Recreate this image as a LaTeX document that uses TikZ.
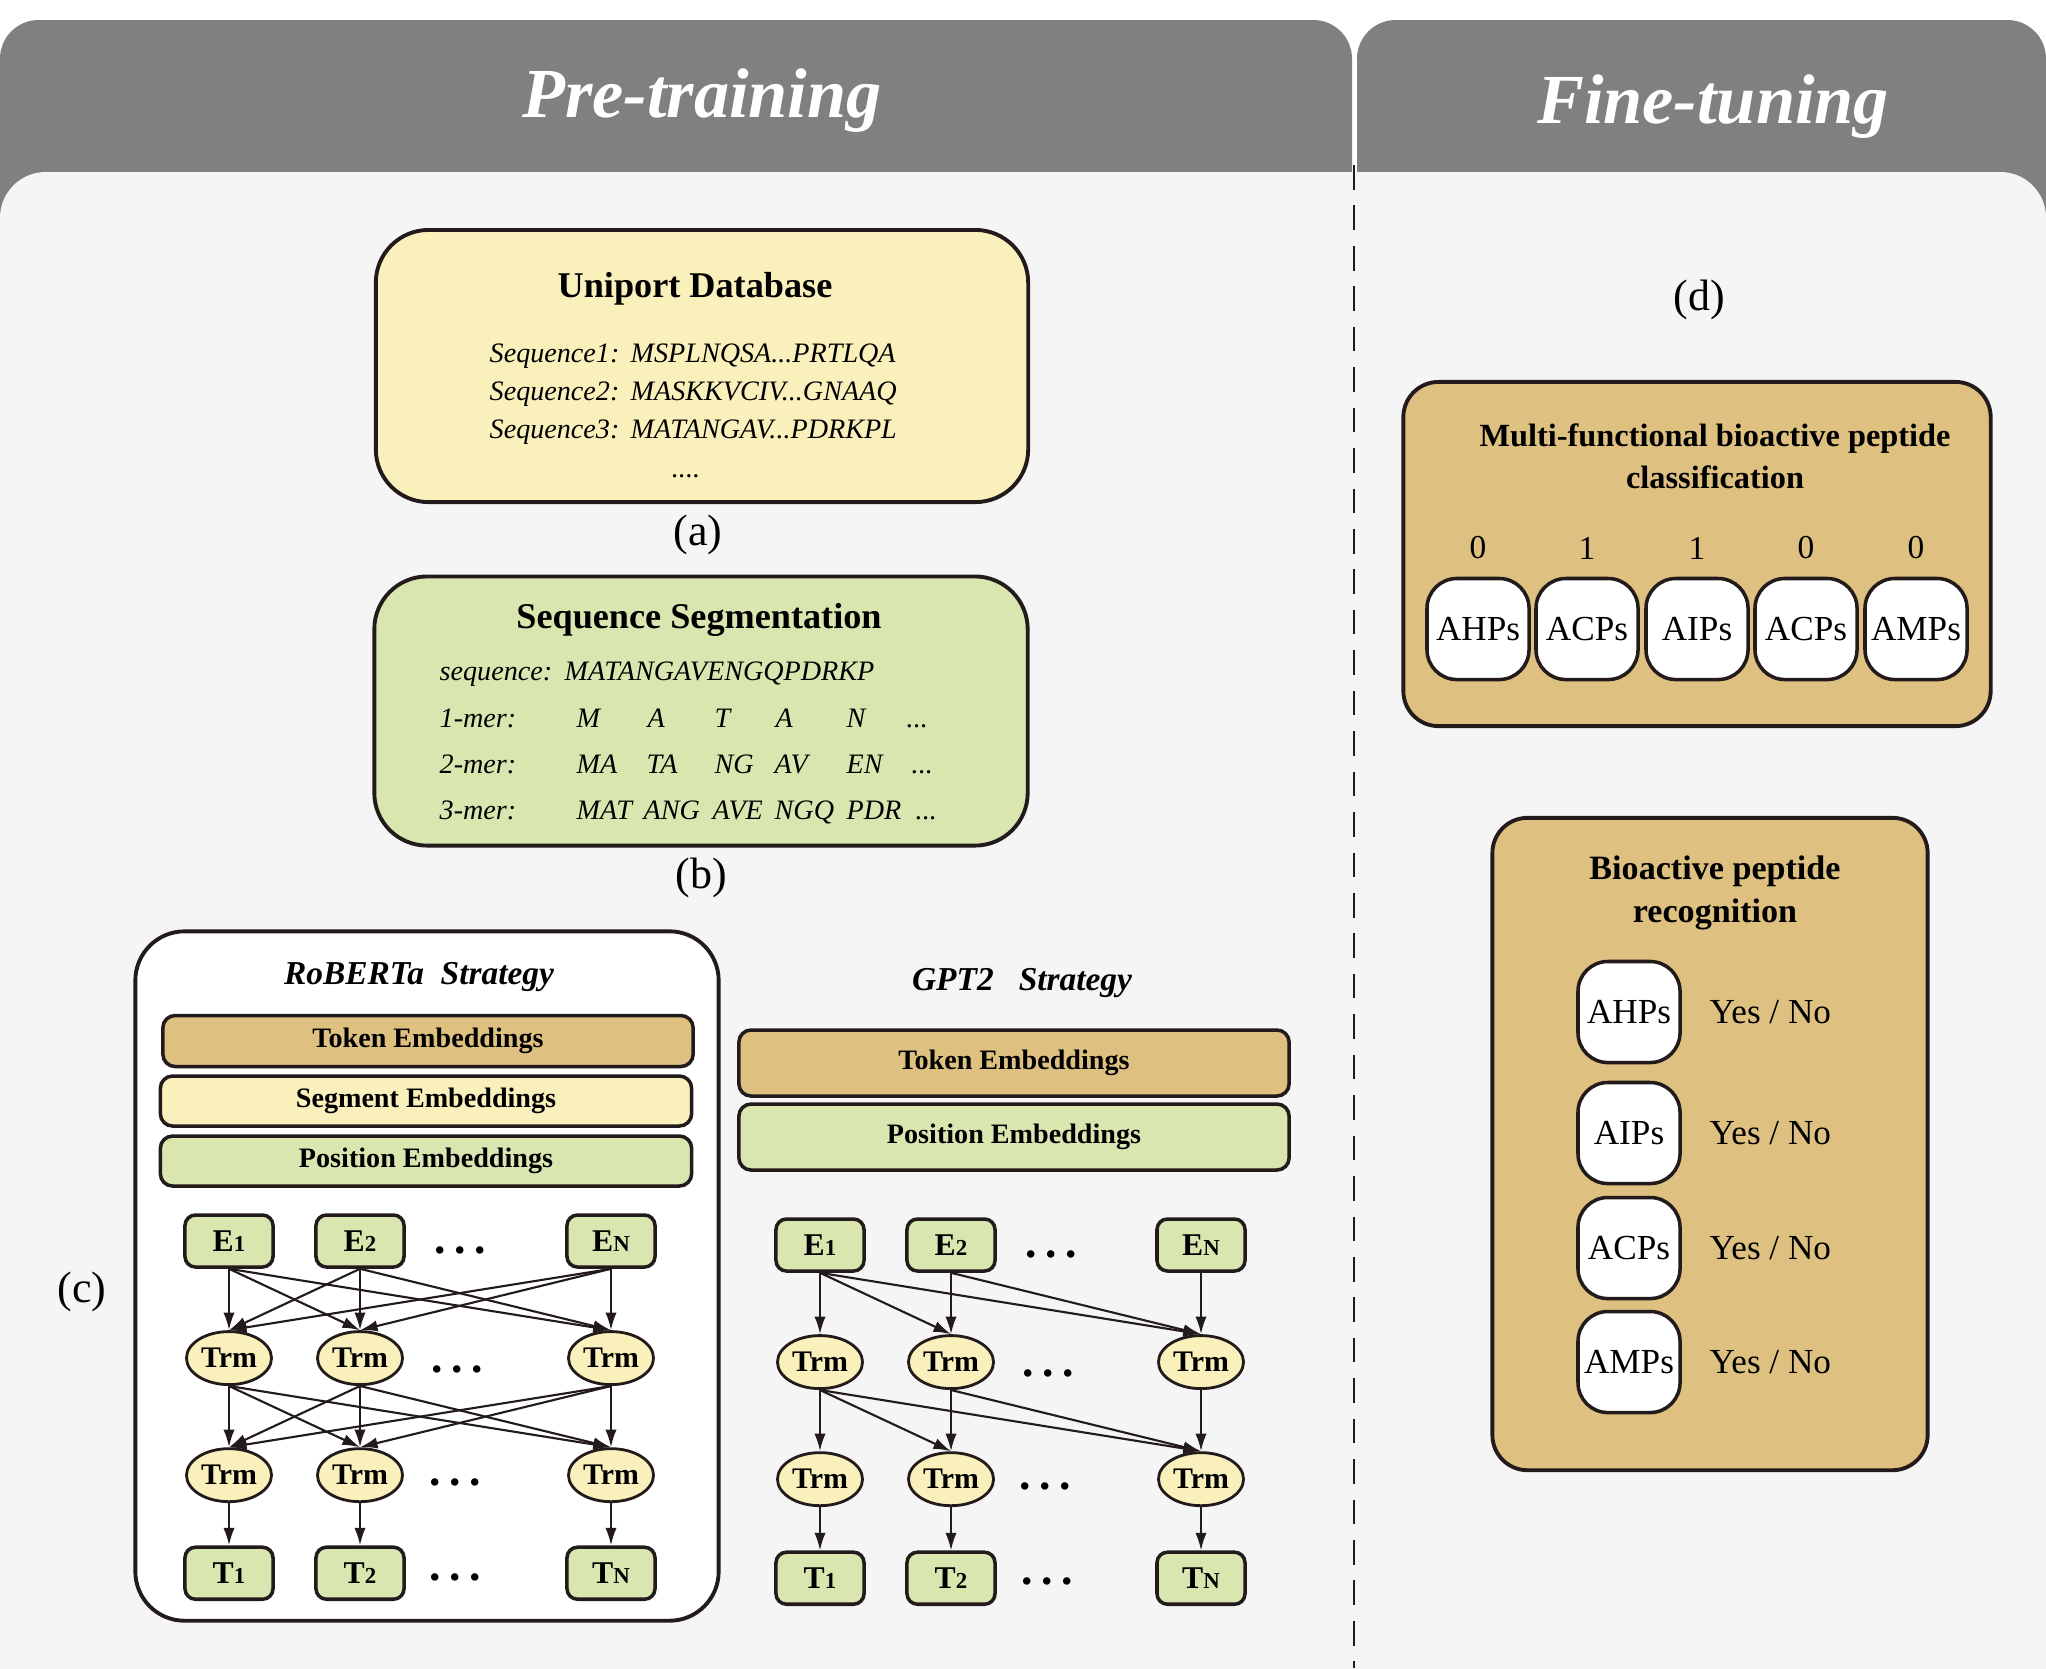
\documentclass[tikz,border=0pt]{standalone}
\usepackage{fontspec}
\setmainfont{Liberation Serif}
\usepackage{xcolor}
\usepackage{tikz}
\usetikzlibrary{shapes,arrows,arrows.meta}

\definecolor{hdrgray}{RGB}{128,128,128}
\definecolor{bodygray}{RGB}{245,245,245}
\definecolor{paleyellow}{RGB}{250,240,188}
\definecolor{palegreen}{RGB}{217,230,176}
\definecolor{tanfill}{RGB}{222,192,128}
\definecolor{ink}{RGB}{35,27,27}

\newcommand{\fsz}[1]{\fontsize{#1}{#1}\selectfont}
\newcommand{\idx}[1]{{\fontsize{6.5}{6.5}\selectfont #1}}
\newcommand{\tdots}{...}

\tikzstyle{panel} = [rectangle, draw=ink, line width=1.1pt, inner sep=0pt]
\tikzstyle{bar} = [rectangle, draw=ink, line width=1pt, rounded corners=3.5pt, inner sep=0pt, font=\fsz{8}\bfseries]
\tikzstyle{tok} = [rectangle, draw=ink, fill=palegreen, line width=1pt, rounded corners=3pt, minimum width=0.88cm, minimum height=0.52cm, inner sep=0pt, font=\fsz{9}\bfseries]
\tikzstyle{trm} = [ellipse, draw=ink, fill=paleyellow, line width=0.8pt, minimum width=0.85cm, minimum height=0.53cm, inner sep=0pt, font=\fsz{8.5}\bfseries]
\tikzstyle{line} = [draw=ink, line width=0.6pt, -{Latex[length=5pt,width=3.2pt]}]
\tikzstyle{dots} = [inner sep=0pt, font=\fsz{13}\bfseries]
\tikzstyle{tag} = [font=\fsz{12.5}]
\tikzstyle{seqtxt} = [anchor=base west, inner sep=0pt, font=\fsz{8}\itshape]
\tikzstyle{strat} = [font=\fsz{9.5}\bfseries\itshape]
\tikzstyle{pep} = [rectangle, draw=ink, fill=white, line width=1pt, rounded corners=8.5pt, minimum width=1.02cm, minimum height=1.01cm, inner sep=0pt, font=\fsz{10}]

\begin{document}
\begin{tikzpicture}[x=0.01cm, y=-0.01cm, node distance=1cm]
\useasboundingbox (0,0) rectangle (2046,1668);

% header tabs and page
\fill[hdrgray, rounded corners=11pt] (0,20) rectangle (1352,400);
\fill[hdrgray, rounded corners=11pt] (1357,20) rectangle (2046,400);
\fill[bodygray, rounded corners=13pt] (0,172) rectangle (2046,1720);
\draw[ink, line width=0.5pt, dash pattern=on 7pt off 4.5pt] (1354,165) -- (1354,1668);
\node[font=\fsz{20}\bfseries\itshape, text=white] (pretrain) at (702,101) {Pre-training};
\node[font=\fsz{20}\bfseries\itshape, text=white] (finetune) at (1713,107) {Fine-tuning};

% (a) database
\node[panel, fill=paleyellow, rounded corners=15pt, minimum width=6.52cm, minimum height=2.72cm] (uniport) at (702,366) {};
\node[font=\fsz{10.3}\bfseries] (unititle) at (695,289) {Uniport Database};
\foreach \i/\s/\y in {1/MSPLNQSA\tdots PRTLQA/362, 2/MASKKVCIV\tdots GNAAQ/400, 3/MATANGAV\tdots PDRKPL/438} {
  \node[seqtxt] (seqname\i) at (489,\y) {Sequence\i:};
  \node[seqtxt] (seqval\i) at (630,\y) {\s};
}
\node[seqtxt, anchor=base] (seqmore) at (686,477) {....};
\node[tag] (taga) at (698,535) {(a)};

% (b) segmentation
\node[panel, fill=palegreen, rounded corners=15pt, minimum width=6.53cm, minimum height=2.69cm] (segment) at (701,711) {};
\node[font=\fsz{10.3}\bfseries] (segtitle) at (699,620) {Sequence Segmentation};
\node[seqtxt] (seqword) at (439,680) {sequence:};
\node[seqtxt] (seqfull) at (564,680) {MATANGAVENGQPDRKP};
\node[seqtxt] (mer1) at (439,727) {1-mer:};
\node[seqtxt] (mer2) at (439,773) {2-mer:};
\node[seqtxt] (mer3) at (439,819) {3-mer:};
\foreach \x/\t [count=\k] in {576/M,647/A,714/T,775/A,846/N,906/\tdots}
  \node[seqtxt] (one\k) at (\x,727) {\t};
\foreach \x/\t [count=\k] in {576/MA,646/TA,714/NG,774/AV,846/EN,911/\tdots}
  \node[seqtxt] (two\k) at (\x,773) {\t};
\foreach \x/\t [count=\k] in {576/MAT,643/ANG,712/AVE,774/NGQ,846/PDR,915/\tdots}
  \node[seqtxt] (three\k) at (\x,819) {\t};
\node[tag] (tagb) at (701,878) {(b)};

% (c) RoBERTa
\node[tag] (tagc) at (82,1292) {(c)};
\node[panel, fill=white, rounded corners=14pt, minimum width=5.83cm, minimum height=6.89cm] (roberta) at (427,1276) {};
\node[strat] (rtitle) at (419,977) {RoBERTa\ \ Strategy};
\node[bar, fill=tanfill, minimum width=5.30cm, minimum height=0.51cm] (rtoken) at (428,1041) {Token Embeddings};
\node[bar, fill=paleyellow, minimum width=5.31cm, minimum height=0.50cm] (rseg) at (426,1101) {\raisebox{-1pt}{Segment Embeddings}};
\node[bar, fill=palegreen, minimum width=5.31cm, minimum height=0.50cm] (rpos) at (426,1161) {\raisebox{-2.5pt}{Position Embeddings}};

\node[tok] (re1) at (229,1241) {E\idx{1}};
\node[tok] (re2) at (360,1241) {E\idx{2}};
\node[tok] (ren) at (611,1241) {E\idx{N}};
\node[trm, below of=re1, node distance=1.17cm] (ra1) {Trm};
\node[trm, below of=re2, node distance=1.17cm] (ra2) {Trm};
\node[trm, below of=ren, node distance=1.17cm] (ran) {Trm};
\node[trm, below of=ra1, node distance=1.17cm] (rb1) {Trm};
\node[trm, below of=ra2, node distance=1.17cm] (rb2) {Trm};
\node[trm, below of=ran, node distance=1.17cm] (rbn) {Trm};
\node[tok, below of=rb1, node distance=0.98cm] (rt1) {T\idx{1}};
\node[tok, below of=rb2, node distance=0.98cm] (rt2) {T\idx{2}};
\node[tok, below of=rbn, node distance=0.98cm] (rtn) {T\idx{N}};
\node[dots] (rdots1) at (460,1250) {.\hspace{2.5pt}.\hspace{2.5pt}.};
\node[dots] (rdots2) at (457,1369) {.\hspace{2.5pt}.\hspace{2.5pt}.};
\node[dots] (rdots3) at (455,1482) {.\hspace{2.5pt}.\hspace{2.5pt}.};
\node[dots] (rdots4) at (455,1577) {.\hspace{2.5pt}.\hspace{2.5pt}.};

\foreach \a in {re1,re2,ren}
  \foreach \b in {ra1,ra2,ran}
    \path [line] (\a.south) -- (\b.north);
\foreach \a in {ra1,ra2,ran}
  \foreach \b in {rb1,rb2,rbn}
    \path [line] (\a.south) -- (\b.north);
\foreach \i in {1,2,n}
  \path [line] (rb\i) -- (rt\i);

% (c) GPT2
\node[strat] (gtitle) at (1022,983) {GPT2\ \ \ Strategy};
\node[bar, fill=tanfill, minimum width=5.50cm, minimum height=0.66cm] (gtoken) at (1014,1063) {\raisebox{-1.5pt}{Token Embeddings}};
\node[bar, fill=palegreen, minimum width=5.50cm, minimum height=0.66cm] (gpos) at (1014,1137) {\raisebox{-1pt}{Position Embeddings}};

\node[tok] (ge1) at (820,1245) {E\idx{1}};
\node[tok] (ge2) at (951,1245) {E\idx{2}};
\node[tok] (gen) at (1201,1245) {E\idx{N}};
\node[trm, below of=ge1, node distance=1.17cm] (ga1) {Trm};
\node[trm, below of=ge2, node distance=1.17cm] (ga2) {Trm};
\node[trm, below of=gen, node distance=1.17cm] (gan) {Trm};
\node[trm, below of=ga1, node distance=1.17cm] (gb1) {Trm};
\node[trm, below of=ga2, node distance=1.17cm] (gb2) {Trm};
\node[trm, below of=gan, node distance=1.17cm] (gbn) {Trm};
\node[tok, below of=gb1, node distance=0.99cm] (gt1) {T\idx{1}};
\node[tok, below of=gb2, node distance=0.99cm] (gt2) {T\idx{2}};
\node[tok, below of=gbn, node distance=0.99cm] (gtn) {T\idx{N}};
\node[dots] (gdots1) at (1051,1254) {.\hspace{2.5pt}.\hspace{2.5pt}.};
\node[dots] (gdots2) at (1048,1373) {.\hspace{2.5pt}.\hspace{2.5pt}.};
\node[dots] (gdots3) at (1045,1486) {.\hspace{2.5pt}.\hspace{2.5pt}.};
\node[dots] (gdots4) at (1047,1581) {.\hspace{2.5pt}.\hspace{2.5pt}.};

\foreach \a/\b in {ge1/ga1, ge1/ga2, ge1/gan, ge2/ga2, ge2/gan, gen/gan,
                   ga1/gb1, ga1/gb2, ga1/gbn, ga2/gb2, ga2/gbn, gan/gbn}
  \path [line] (\a.south) -- (\b.north);
\foreach \i in {1,2,n}
  \path [line] (gb\i) -- (gt\i);

% (d) fine-tuning tasks
\node[tag] (tagd) at (1699,300) {(d)};
\node[panel, fill=tanfill, rounded corners=10pt, minimum width=5.87cm, minimum height=3.44cm] (multi) at (1697,554) {};
\node[font=\fontsize{9.2}{12}\selectfont\bfseries, align=center] (multititle) at (1715,456) {Multi-functional bioactive peptide\\classification};
\foreach \x/\t/\v [count=\k] in {1478/AHPs/0, 1587/ACPs/1, 1697/AIPs/1, 1806/ACPs/0, 1916/AMPs/0} {
  \node[pep] (mp\k) at (\x,629) {\raisebox{-1.5pt}{\t}};
  \node[font=\fsz{9.5}, above of=mp\k, node distance=0.81cm] (mv\k) {\v};
}

\node[panel, fill=tanfill, rounded corners=10pt, minimum width=4.35cm, minimum height=6.52cm] (recog) at (1710,1144) {};
\node[font=\fontsize{9.7}{12.2}\selectfont\bfseries, align=center] (recogtitle) at (1715,893) {Bioactive peptide\\recognition};
\foreach \y/\t [count=\k] in {1012/AHPs, 1133/AIPs, 1248/ACPs, 1362/AMPs} {
  \node[pep] (bp\k) at (1629,\y) {\t};
  \node[font=\fsz{10}, anchor=west, inner sep=0pt] (yn\k) at ([xshift=0.27cm]bp\k.east) {Yes / No};
}

\end{tikzpicture}
\end{document}
